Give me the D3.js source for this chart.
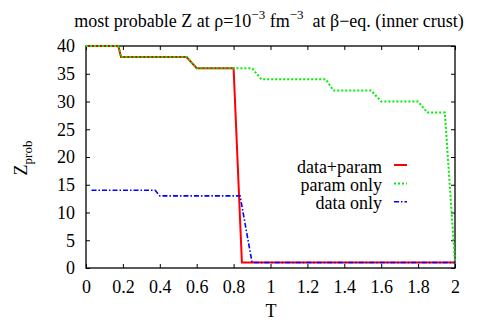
<!DOCTYPE html>
<html><head><meta charset="utf-8">
<script src="https://cdn.jsdelivr.net/npm/d3@7"></script>
<style>body{margin:0;background:#fff}svg{display:block}</style>
</head><body><svg id="c" width="480" height="323"></svg>
<script>
const xTicks = [0,0.2,0.4,0.6,0.8,1,1.2,1.4,1.6,1.8,2];
const yTicks = [0,5,10,15,20,25,30,35,40];
const seriesNames = ["data+param","param only","data only"];
const dataParamT = [0,0.175,0.19,0.545,0.6,0.8,0.845,2];
const dataParamZ = [40,40,38,38,36,36,1,1];
const paramOnlyT = [0,0.175,0.19,0.545,0.6,0.9,0.95,1.3,1.34,1.545,1.6,1.8,1.85,1.945,2];
const paramOnlyZ = [40,40,38,38,36,36,34,34,32,32,30,30,28,28,1];
const dataOnlyT = [0.03,0.375,0.4,0.835,0.9,2];
const dataOnlyZ = [14,14,13,13,1,1];

const FONT = "'Liberation Serif','Times New Roman',Times,serif";
const FS = 18;
const svg = d3.select("#c").attr("font-family",FONT);
const L=86,R=455,T=46,B=268;
const x = d3.scaleLinear().domain([0,2]).range([L,R]);
const y = d3.scaleLinear().domain([0,40]).range([B,T]);

function txt(sel){return sel.attr("font-family",FONT).attr("font-size",FS).attr("fill","#000");}

// title
const title = txt(svg.append("text")).attr("x",269).attr("y",27).attr("text-anchor","middle");
title.append("tspan").text("most probable Z at \u03C1=10");
title.append("tspan").attr("dy",-8).attr("font-size",13).text("\u22123");
title.append("tspan").attr("dy",8).text(" fm");
title.append("tspan").attr("dy",-8).attr("font-size",13).text("\u22123");
title.append("tspan").attr("dy",8).text("\u00A0 at \u03B2\u2212eq. (inner crust)");

// axes with inward ticks (mirrored)
const tl = 4;
const gx = svg.append("g").attr("transform",`translate(0,${B})`)
  .call(d3.axisBottom(x).tickValues(xTicks).tickFormat(d=>d3.format("")(d)).tickSize(-tl).tickPadding(12));
const gxt = svg.append("g").attr("transform",`translate(0,${T})`)
  .call(d3.axisTop(x).tickValues(xTicks).tickSize(-tl).tickFormat(""));
const gy = svg.append("g").attr("transform",`translate(${L},0)`)
  .call(d3.axisLeft(y).tickValues(yTicks).tickSize(-tl).tickPadding(11));
const gyr = svg.append("g").attr("transform",`translate(${R},0)`)
  .call(d3.axisRight(y).tickValues(yTicks).tickSize(-tl).tickFormat(""));
[gx,gxt,gy,gyr].forEach(g=>{g.attr("font-family",FONT).attr("font-size",FS);g.select(".domain").remove();g.selectAll("line").attr("stroke","#000");g.selectAll("text").attr("fill","#000");});
svg.append("rect").attr("x",L).attr("y",T).attr("width",R-L).attr("height",B-T).attr("fill","none").attr("stroke","#000").attr("stroke-width",1.3);

// axis labels
txt(svg.append("text")).attr("x",271).attr("y",317).attr("text-anchor","middle").text("T");
const zl = txt(svg.append("text")).attr("transform","translate(27,158) rotate(-90)").attr("text-anchor","middle");
zl.append("tspan").text("Z");
zl.append("tspan").attr("dy",5).attr("font-size",13).text("prob");

const line = d3.line().x(d=>x(d[0])).y(d=>y(d[1]));
const series = [
  {name:seriesNames[0], pts:d3.zip(dataParamT,dataParamZ), color:"#ff0000", dash:null, w:2},
  {name:seriesNames[1], pts:d3.zip(paramOnlyT,paramOnlyZ), color:"#00ee00", dash:"2,2", w:2},
  {name:seriesNames[2], pts:d3.zip(dataOnlyT,dataOnlyZ), color:"#0000ff", dash:"5,2,1.5,2", w:1.6}
];
series.forEach((s,i)=>{
  svg.append("path").attr("d",line(s.pts)).attr("fill","none").attr("stroke",s.color)
    .attr("stroke-width",s.w).attr("stroke-dasharray",s.dash);
  const ly = 165 + i*18.4;
  txt(svg.append("text")).attr("x",382).attr("y",ly+7.5).attr("text-anchor","end").text(s.name);
  svg.append("line").attr("x1",394).attr("x2",407).attr("y1",ly).attr("y2",ly).attr("stroke",s.color)
    .attr("stroke-width",s.w).attr("stroke-dasharray",s.dash);
});
</script></body></html>
